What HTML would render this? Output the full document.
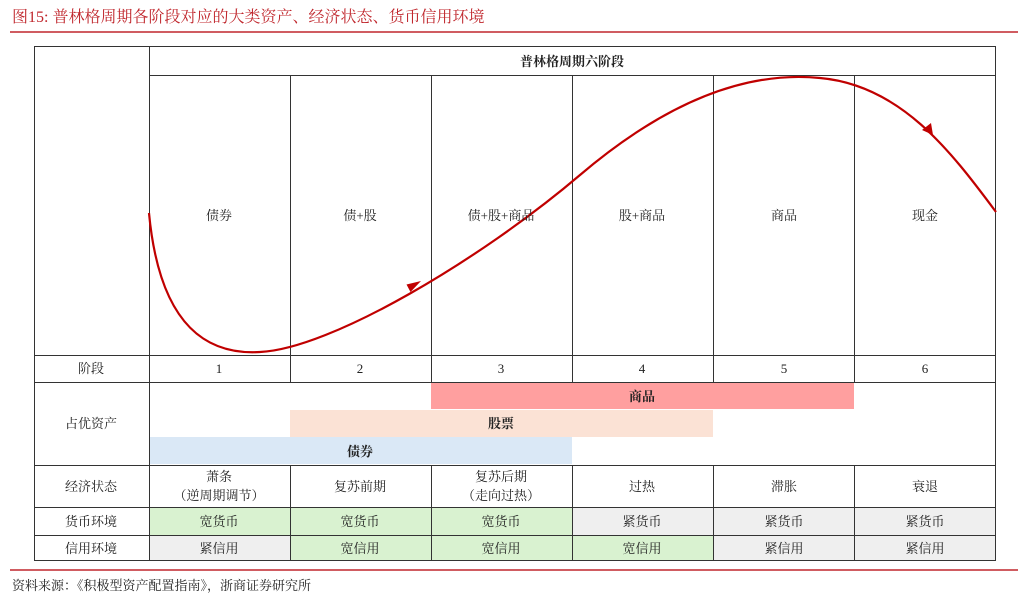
<!DOCTYPE html>
<html><head><meta charset="utf-8"><style>
body{margin:0;background:#fff;}
svg text{font-family:"Liberation Serif","Noto Serif CJK SC",serif;}
</style></head><body>
<svg width="1024" height="601" viewBox="0 0 1024 601" xmlns="http://www.w3.org/2000/svg">
<text x="12" y="22" font-size="16" fill="#c0272d">图15:  普林格周期各阶段对应的大类资产、经济状态、货币信用环境</text>
<line x1="10" y1="32" x2="1018" y2="32" stroke="#c0272d" stroke-width="1.5"/>
<rect x="431" y="383" width="423" height="26" fill="#ff9f9f"/>
<rect x="290" y="410" width="423" height="27" fill="#fbe2d5"/>
<rect x="149" y="437" width="423" height="27" fill="#dae8f6"/>
<rect x="149" y="507" width="423" height="28" fill="#d9f2d0"/>
<rect x="572" y="507" width="424" height="28" fill="#efefef"/>
<rect x="149" y="535" width="141" height="26" fill="#efefef"/>
<rect x="290" y="535" width="423" height="26" fill="#d9f2d0"/>
<rect x="713" y="535" width="283" height="26" fill="#efefef"/>
<g stroke="#333" stroke-width="1" fill="none">
<rect x="34.5" y="46.5" width="961" height="514"/>
<line x1="149.5" y1="46" x2="149.5" y2="561"/>
<line x1="149" y1="75.5" x2="996" y2="75.5"/>
<line x1="34" y1="355.5" x2="996" y2="355.5"/>
<line x1="34" y1="382.5" x2="996" y2="382.5"/>
<line x1="34" y1="465.5" x2="996" y2="465.5"/>
<line x1="34" y1="507.5" x2="996" y2="507.5"/>
<line x1="34" y1="535.5" x2="996" y2="535.5"/>
<line x1="290.5" y1="75" x2="290.5" y2="382"/><line x1="431.5" y1="75" x2="431.5" y2="382"/>
<line x1="572.5" y1="75" x2="572.5" y2="382"/><line x1="713.5" y1="75" x2="713.5" y2="382"/>
<line x1="854.5" y1="75" x2="854.5" y2="382"/>
<line x1="290.5" y1="465" x2="290.5" y2="561"/><line x1="431.5" y1="465" x2="431.5" y2="561"/>
<line x1="572.5" y1="465" x2="572.5" y2="561"/><line x1="713.5" y1="465" x2="713.5" y2="561"/>
<line x1="854.5" y1="465" x2="854.5" y2="561"/>
</g>
<path d="M149,213 C160,330 210,355 260,352 C330,349 480,260 580,175 C680,90 760,72 820,78 C900,85 950,150 996,212" stroke="#c00000" stroke-width="2.2" fill="none"/>
<polygon points="421,281 406.5,284.5 410.5,292" fill="#c00000"/>
<polygon points="933,135 922,130 931,123" fill="#c00000"/>
<g font-size="13" fill="#222" text-anchor="middle">
<text x="572" y="66" font-weight="bold">普林格周期六阶段</text>
<text x="219" y="220">债券</text><text x="360" y="220">债+股</text><text x="501" y="220">债+股+商品</text>
<text x="642" y="220">股+商品</text><text x="784" y="220">商品</text><text x="925" y="220">现金</text>
<text x="91" y="373">阶段</text>
<text x="219" y="373">1</text><text x="360" y="373">2</text><text x="501" y="373">3</text><text x="642" y="373">4</text><text x="784" y="373">5</text><text x="925" y="373">6</text>
<text x="91" y="428">占优资产</text>
<text x="642" y="401" font-weight="bold">商品</text>
<text x="501" y="428" font-weight="bold">股票</text>
<text x="360" y="456" font-weight="bold">债券</text>
<text x="91" y="491">经济状态</text>
<text x="219" y="481">萧条</text><text x="219" y="500">（逆周期调节）</text>
<text x="360" y="491">复苏前期</text>
<text x="501" y="481">复苏后期</text><text x="501" y="500">（走向过热）</text>
<text x="642" y="491">过热</text><text x="784" y="491">滞胀</text><text x="925" y="491">衰退</text>
<text x="91" y="526">货币环境</text>
<text x="219" y="526">宽货币</text><text x="360" y="526">宽货币</text><text x="501" y="526">宽货币</text>
<text x="642" y="526">紧货币</text><text x="784" y="526">紧货币</text><text x="925" y="526">紧货币</text>
<text x="91" y="553">信用环境</text>
<text x="219" y="553">紧信用</text><text x="360" y="553">宽信用</text><text x="501" y="553">宽信用</text>
<text x="642" y="553">宽信用</text><text x="784" y="553">紧信用</text><text x="925" y="553">紧信用</text>
</g>
<line x1="10" y1="570" x2="1018" y2="570" stroke="#c0272d" stroke-width="1.5"/>
<text x="12" y="590" font-size="13" fill="#222">资料来源：《积极型资产配置指南》，浙商证券研究所</text>
</svg>
</body></html>
